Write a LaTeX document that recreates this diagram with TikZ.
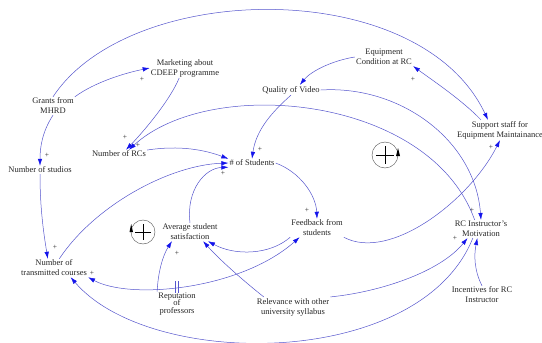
\documentclass[tikz,border=0pt]{standalone}
\usepackage{fontspec}
\setmainfont{Liberation Serif}
\usetikzlibrary{arrows.meta}
\definecolor{linkblue}{RGB}{85,85,205}
\definecolor{tipblue}{RGB}{20,20,235}
\begin{document}
\begin{tikzpicture}[x=1pt, y=-1pt,
    var/.style={align=center, inner sep=1pt, font=\fontsize{8.5}{10}\selectfont, text=black!85},
    pol/.style={inner sep=0pt, font=\fontsize{7.5}{8}\selectfont, text=black!85},
    >={Latex[length=7pt, width=4.5pt, color=tipblue]},
    link/.style={draw=linkblue, line width=0.5pt, ->}]
    \useasboundingbox (0,0) rectangle (542,343);

    % Variables
    \node [var] (grants) at (53,106) {Grants from\\MHRD};
    \node [var] (marketing) at (185,68) {Marketing about\\CDEEP programme};
    \node [var] (equip) at (384,57) {Equipment\\Condition at RC};
    \node [var] (quality) at (291,90) {Quality of Video};
    \node [var] (support) at (500,130) {Support staff for\\Equipment Maintainance};
    \node [var] (rcs) at (119,154) {Number of RCs};
    \node [var] (students) at (252,163) {\# of Students};
    \node [var] (studios) at (40,170) {Number of studios};
    \node [var] (avg) at (190,232) {Average student\\satisfaction};
    \node [var] (feedback) at (317,228) {Feedback from\\students};
    \node [var] (rcinst) at (481,229) {RC Instructor's\\Motivation};
    \node [var] (courses) at (54,268) {Number of\\transmitted courses};
    \node [var] (reputation) at (177,304) {Reputation\\[-2.5pt]of\\[-2.5pt]professors};
    \node [var] (relevance) at (293,307) {Relevance with other\\university syllabus};
    \node [var] (incentives) at (482,295) {Incentives for RC\\Instructor};

    % Links
    \draw [link] (grants.north east) .. controls (95,82) and (125,73) .. (marketing.west);
    \draw [link] (grants.north) .. controls (130,-20) and (420,-25) .. (support.140);
    \draw [link] (grants.south) .. controls (42,132) and (40,148) .. (studios.north);
    \draw [link] (marketing.240) .. controls (170,100) and (145,130) .. (rcs.31);
    \draw [link] (rcinst.125) .. controls (430,95) and (210,75) .. (rcs.23);
    \draw [link] (rcs.8) .. controls (180,145) and (205,150) .. (students.north west);
    \draw [link] (quality.south) .. controls (272,112) and (256,130) .. (students.north);
    \draw [link] (equip.west) .. controls (335,60) and (312,70) .. (quality.30);
    \draw [link] (support.152) .. controls (462,100) and (432,80) .. (equip.south east);
    \draw [link] (quality.east) .. controls (400,85) and (475,140) .. (rcinst.north);
    \draw [link] (courses.60) .. controls (95,205) and (170,165) .. (students.west);
    \draw [link] (avg.north) .. controls (186,190) and (205,168) .. (students.south west);
    \draw [link] (students.east) .. controls (300,172) and (316,195) .. (feedback.north);
    \draw [link] (feedback.south east) .. controls (390,262) and (470,200) .. (support.south);
    \draw [link] (feedback.south west) .. controls (270,255) and (235,256) .. (avg.-27);
    \draw [link, <->] (courses.south east) .. controls (130,300) and (240,290) .. (feedback.208);
    \draw [link] (reputation.north west) .. controls (158,272) and (163,255) .. (avg.207);
    \draw [link] (relevance.161) .. controls (240,278) and (218,258) .. (avg.-35);
    \draw [link] (relevance.north east) .. controls (380,292) and (440,272) .. (rcinst.214);
    \draw [link] (rcinst.228) .. controls (420,370) and (150,370) .. (courses.-29);
    \draw [link] (incentives.north) .. controls (474,270) and (474,255) .. (rcinst.248);
    \draw [link] (studios.south) .. controls (40,210) and (44,235) .. (courses.124);

    % Delay mark
    \draw [linkblue] (175.5,281) -- (175.5,293) (178.5,281) -- (178.5,293);

    % Polarities
    \node [pol] (p1) at (142,79) {+};
    \node [pol] (p2) at (413,79) {+};
    \node [pol] (p3) at (47,155) {+};
    \node [pol] (p4) at (125,137) {+};
    \node [pol] (p5) at (138,145) {+};
    \node [pol] (p6) at (260,149) {+};
    \node [pol] (p7) at (223,173) {+};
    \node [pol] (p8) at (307,210) {+};
    \node [pol] (p9) at (491,147) {+};
    \node [pol] (p10) at (472,210) {+};
    \node [pol] (p11) at (455,238) {+};
    \node [pol] (p12) at (177,253) {+};
    \node [pol] (p13) at (55,247) {+};
    \node [pol] (p14) at (92,273) {+};

    % Loop markers
    \draw [black!70] (385,155) circle [radius=13pt];
    \draw [line width=0.8pt] (376,155) -- (394,155) (385,146) -- (385,164);
    \fill (396,156) -- (400,156) -- (398,148) -- cycle;
    \draw [black!70] (143,232) circle [radius=12pt];
    \draw [line width=0.8pt] (135,232) -- (151,232) (143,224) -- (143,240);
    \fill (129.5,232) -- (133,232) -- (131.2,224) -- cycle;
\end{tikzpicture}
\end{document}
